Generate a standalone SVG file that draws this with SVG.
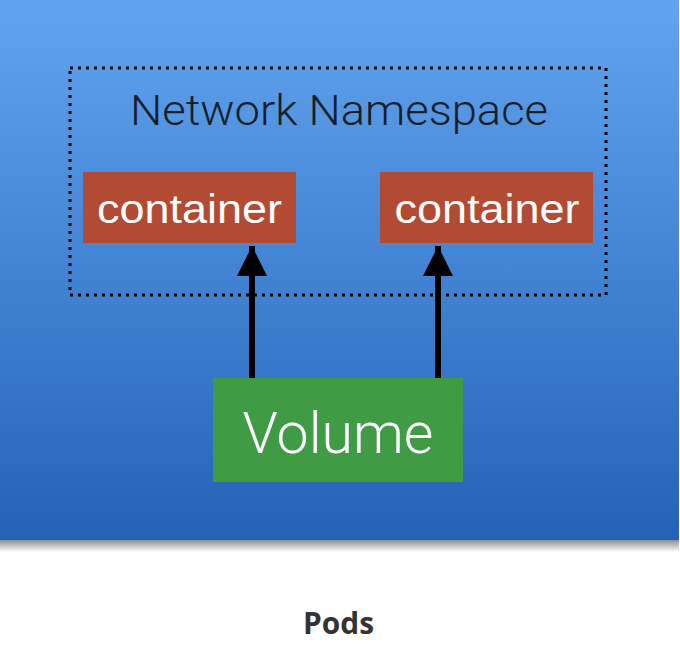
<svg xmlns="http://www.w3.org/2000/svg" width="680" height="670" viewBox="0 0 680 670">
<defs>
<linearGradient id="bg" x1="0" y1="0" x2="0" y2="1">
<stop offset="0" stop-color="#62a4ef"/>
<stop offset="1" stop-color="#2462b7"/>
</linearGradient>
<linearGradient id="shadow" x1="0" y1="0" x2="0" y2="1">
<stop offset="0" stop-color="#000" stop-opacity="0.45"/>
<stop offset="1" stop-color="#000" stop-opacity="0"/>
</linearGradient>
<marker id="arrow" viewBox="0 0 10 10" refX="10" refY="5" markerUnits="userSpaceOnUse" markerWidth="30" markerHeight="30" orient="auto">
<path d="M0,0 L10,5 L0,10 z" fill="#000"/>
</marker>
<style>
.box-text{font-family:"Liberation Sans",Arial,sans-serif;fill:#fff;text-anchor:middle}
.vol-text{font-family:Roboto,"Liberation Sans",Arial,sans-serif;font-weight:300;fill:#fff;text-anchor:middle}
.ns{font-family:Roboto,"Liberation Sans",Arial,sans-serif;font-weight:300;fill:#151f2a;text-anchor:middle;font-size:42px}
.caption{font-family:"Open Sans","Liberation Sans",sans-serif;font-weight:bold;fill:#333;text-anchor:middle;font-size:30px}
.container{fill:#b24b33}
.volume{fill:#3f9b44}
.conn{stroke:#000;stroke-width:6;fill:none;marker-end:url(#arrow)}
</style>
</defs>
<rect x="0" y="540" width="679" height="12" fill="url(#shadow)"/>
<rect x="0" y="0" width="679" height="540" fill="url(#bg)"/>
<g id="namespace">
<rect x="70" y="68" width="536" height="227" fill="none" stroke="#000" stroke-width="3" stroke-dasharray="3 5"/>
<text class="ns" x="339" y="125" textLength="418" lengthAdjust="spacingAndGlyphs">Network Namespace</text>
</g>
<g id="container-left">
<rect class="container" x="83" y="172" width="213" height="71"/>
<text class="box-text" x="189.5" y="223" font-size="40" textLength="185" lengthAdjust="spacingAndGlyphs">container</text>
</g>
<g id="container-right">
<rect class="container" x="380" y="172" width="213" height="71"/>
<text class="box-text" x="487" y="223" font-size="40" textLength="185" lengthAdjust="spacingAndGlyphs">container</text>
</g>
<g id="volume">
<rect class="volume" x="213" y="378" width="250" height="104"/>
<text class="vol-text" x="338" y="453" font-size="57" textLength="191" lengthAdjust="spacingAndGlyphs">Volume</text>
</g>
<g id="connectors">
<path class="conn" d="M252,378 L252,246"/>
<path class="conn" d="M438,378 L438,246"/>
</g>
<text class="caption" x="338.5" y="634" textLength="71" lengthAdjust="spacingAndGlyphs">Pods</text>
</svg>
